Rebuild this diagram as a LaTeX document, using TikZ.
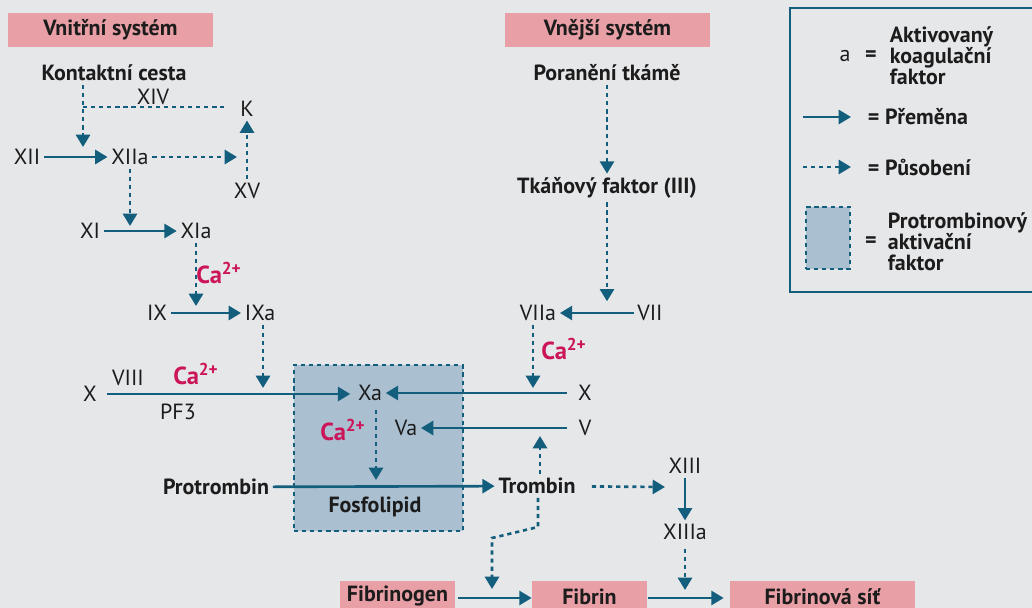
\documentclass[tikz,border=0pt]{standalone}
\usepackage{fontspec}
\setmainfont{PT Sans}
\usetikzlibrary{arrows.meta}
\definecolor{bgc}{HTML}{E6E7E9}
\definecolor{pinkc}{HTML}{E8A0A6}
\definecolor{linec}{HTML}{135E7D}
\definecolor{boxc}{HTML}{AABFD0}
\definecolor{cac}{HTML}{CC1458}
\definecolor{txtc}{HTML}{1C1C1C}
\begin{document}
\begin{tikzpicture}[x=0.02cm,y=-0.02cm,
  % labels: plain = factor, bold = stage or substance, pink = system / product
  fac/.style={font=\fontsize{12.5}{12}\selectfont, text=txtc, inner sep=2pt},
  sub/.style={fac, font=\fontsize{12.5}{12}\selectfont\bfseries},
  sys/.style={sub, fill=pinkc, minimum height=0.68cm},
  ca/.style={font=\fontsize{14}{14}\selectfont\bfseries, text=cac, inner sep=1pt},
  % relationships
  conv/.style={-{Triangle[length=7pt,width=8pt]}, draw=linec, line width=1.5pt}, % conversion
  actl/.style={draw=linec, line width=1.5pt, dash pattern=on 2.4pt off 2.2pt},   % action, no tip
  act/.style={actl, -{Triangle[length=7pt,width=8pt]}},                          % action
  pta/.style={draw=linec, fill=boxc, line width=1.5pt, dash pattern=on 2.4pt off 2.2pt},
  leg/.style={sub, anchor=west, align=left},
  ]
  \useasboundingbox (0,0) rectangle (1032,608);
  \clip (0,0) rectangle (1032,608);
  \fill[bgc] (0,0) rectangle (1032,608);
  % ---- prothrombin activator (under everything) ----------------------------------
  \node[pta, minimum width=3.38cm, minimum height=3.32cm] (act) at (378.5,448) {};
  % ---- systems -------------------------------------------------------------------
  \node[sys, minimum width=4.1cm] (intr) at (110.5,30) {Vnitřní systém};
  \node[sys, minimum width=4.1cm] (extr) at (607.5,30) {Vnější systém};
  % ---- intrinsic path ------------------------------------------------------------
  \node[sub] (kont) at (114,73)  {Kontaktní cesta};
  \node[fac] (xiv)  at (153,97)  {XIV};
  \node[fac] (k)    at (247,109) {K};
  \node[fac] (xii)  at (27,157)  {XII};
  \node[fac] (xiia) at (130,157) {XIIa};
  \node[fac] (xv)   at (247,191) {XV};
  \node[fac] (xi)   at (90,231)  {XI};
  \node[fac] (xia)  at (196,231) {XIa};
  \node[ca]  (ca1)  at (219,273) {Ca\textsuperscript{2+}};
  \node[fac] (ix)   at (157,313) {IX};
  \node[fac] (ixa)  at (260,313) {IXa};
  \node[fac] (xl)   at (90,394)  {X};
  \node[fac] (viii) at (128,378) {VIII};
  \node[ca]  (ca2)  at (196,374) {Ca\textsuperscript{2+}};
  \node[fac] (pf3)  at (178,412) {PF3};
  % ---- extrinsic path ------------------------------------------------------------
  \node[sub] (por)  at (607,73)  {Poranění tkámě};
  \node[sub] (tkan) at (607,188) {Tkáňový faktor (III)};
  \node[fac] (viia) at (538,313) {VIIa};
  \node[fac] (vii)  at (650,313) {VII};
  \node[ca]  (ca3)  at (564,349) {Ca\textsuperscript{2+}};
  \node[fac] (xr)   at (585,393) {X};
  \node[fac] (vr)   at (585,428) {V};
  % ---- common path ---------------------------------------------------------------
  \node[fac] (xa)   at (370,393) {Xa};
  \node[fac] (va)   at (406,428) {Va};
  \node[ca]  (ca4)  at (343,430) {Ca\textsuperscript{2+}};
  \node[sub] (prot) at (216,487) {Protrombin};
  \node[sub] (trom) at (537,486) {Trombin};
  \node[sub] (fosf) at (375,507) {Fosfolipid};
  \node[fac] (xiii)  at (685,466) {XIII};
  \node[fac] (xiiia) at (685,532) {XIIIa};
  \node[sys, minimum width=2.3cm, minimum height=0.6cm, anchor=north] (fgen) at (397.5,581) {Fibrinogen};
  \node[sys, minimum width=2.3cm, minimum height=0.6cm, anchor=north] (fib)  at (589.5,581) {Fibrin};
  \node[sys, minimum width=3.7cm, minimum height=0.6cm, anchor=north] (fsit) at (822.5,581) {Fibrinová síť};
  % ---- free ends of the action arrows --------------------------------------------
  \coordinate (m12) at (83,147);
  \coordinate (j14) at (83,107);
  \coordinate (m15) at (237,157);
  \coordinate (m11) at (130,226);
  \coordinate (m9)  at (196,306);
  \coordinate (mxl) at (263,388);
  \coordinate (mxr) at (533,388);
  \coordinate (mv)  at (540,436);
  \coordinate (mp)  at (376,480);
  \coordinate (m13) at (665,487);
  \coordinate (b1)  at (538,527);
  \coordinate (b2)  at (492,538);
  \coordinate (mfg) at (492,589);
  \coordinate (mfs) at (685,590);
  % ---- conversions ---------------------------------------------------------------
  \draw[conv] (xii) -- (xiia);
  \draw[conv] (xi) -- (xia);
  \draw[conv] (ix) -- (ixa);
  \draw[conv, shorten <=0.12cm, shorten >=0.08cm] (xl.east) -- (xa.west |- xl.east);
  \draw[conv, shorten <=0.15cm] (xr) -- (xa);
  \draw[conv, shorten <=0.15cm] (vr) -- (va);
  \draw[conv] (vii) -- (viia);
  \draw[conv] (prot) -- (trom);
  \draw[conv] (xiii) -- (xiiia);
  \draw[conv, shorten <=0.06cm] (fgen.east |- 0,598) -- (fib.west |- 0,598);
  \draw[conv, shorten <=0.02cm, shorten >=0.12cm] (fib.east |- 0,598) -- (fsit.west |- 0,598);
  % ---- actions -------------------------------------------------------------------
  \draw[act] (kont.south -| m12) -- (m12);
  \draw[actl, shorten >=0.25cm] (j14) -- (j14 -| k.west);
  \draw[act] (xiia) -- (m15);
  \draw[act] (xv) -- (k);
  \draw[act] (xiia) -- (m11);
  \draw[act] (xia) -- (m9);
  \draw[act] (ixa.south -| mxl) -- (mxl);
  \draw[act] (por) -- (tkan.north -| por);
  \draw[act] (tkan) -- (tkan |- viia.north);
  \draw[act] (viia.south -| mxr) -- (mxr);
  \draw[act, shorten <=0.1cm] (xa.south -| mp) -- (mp);
  \draw[act] (trom.north -| mv) -- (mv);
  \draw[act, shorten <=0.25cm] (trom) -- (m13);
  \draw[act] (trom.south -| b1) -- (b1) -- (b2) -- (mfg);
  \draw[act, shorten <=0.1cm] (xiiia) -- (mfs);
  % ---- legend --------------------------------------------------------------------
  \node[draw=linec, line width=0.8pt, minimum width=5cm, minimum height=5.68cm] (legbox) at (915,150) {};
  \node[fac] (la)   at (845,56) {a};
  \node[sub] (leq1) at (871,56) {=};
  \node[leg] (lakt) at (886,56) {Aktivovaný\\koagulační\\faktor};
  \coordinate (lk1) at (803,117);
  \node[leg] (lconv) at (864,117) {= Přeměna};
  \draw[conv, shorten >=0.26cm] (lk1) -- (lconv.west);
  \coordinate (lk2) at (803,167);
  \node[leg] (lact) at (864,167) {= Působení};
  \draw[act, shorten >=0.26cm] (lk2) -- (lact.west);
  \node[pta, minimum width=0.88cm, minimum height=1.24cm] (lpta) at (828,238) {};
  \node[sub] (leq2) at (871,242) {=};
  \node[leg] (lptat) at (884,242) {Protrombinový\\aktivační\\faktor};
\end{tikzpicture}
\end{document}
